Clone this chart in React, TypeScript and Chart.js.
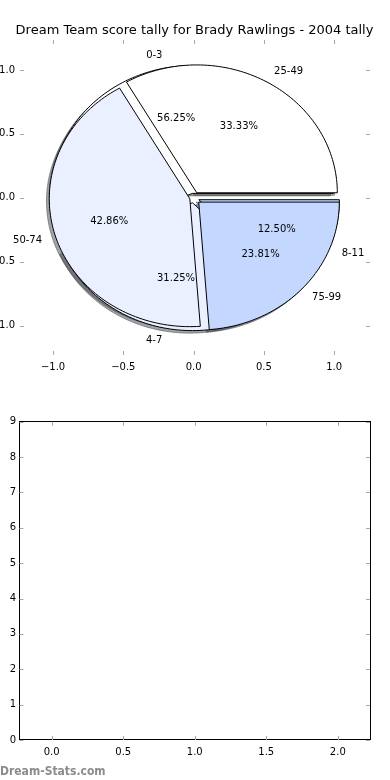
import React, { useEffect, useRef } from 'react';
import { Chart, registerables } from 'chart.js';

Chart.register(...registerables);

const TITLE = 'Dream Team score tally for Brady Rawlings - 2004 tally';
const WATERMARK = 'Dream-Stats.com';

const PIE1_LABELS = ['0-3', '4-7', '8-11'];
const PIE1_VALUES = [9, 5, 2];
const PIE1_EXPLODE = [0.035, 0.04, 0.04];

const PIE2_LABELS = ['25-49', '50-74', '75-99'];
const PIE2_VALUES = [7, 9, 5];
const PIE2_EXPLODE = [0.045, 0.028, 0.05];

const WEDGE_COLORS = ['#ffffff', '#eaf0ff', '#c4d8ff'];

const TOP_X_TICKS = [-1, -0.5, 0, 0.5, 1];
const TOP_Y_TICKS = [-1, -0.5, 0, 0.5, 1];
const BOTTOM_X_TICKS = [0, 0.5, 1, 1.5, 2];
const BOTTOM_Y_TICKS = [0, 1, 2, 3, 4, 5, 6, 7, 8, 9];

const FONT = 'DejaVu Sans';
const fmt1 = (v: number) => v.toFixed(1).replace('-', '\u2212');
const fmt0 = (v: number) => String(Math.round(v)).replace('-', '\u2212');

function hexToRgb(h: string) {
  const n = parseInt(h.slice(1), 16);
  return [(n >> 16) & 255, (n >> 8) & 255, n & 255];
}

const tickMarksPlugin = {
  id: 'mplTicks',
  afterDraw(chart: any) {
    const o = chart.options.plugins.mplTicks;
    if (!o) return;
    const { ctx, chartArea: a } = chart;
    const xs = chart.scales.x;
    const ys = chart.scales.y;
    ctx.save();
    if (o.frame) {
      ctx.strokeStyle = '#000';
      ctx.lineWidth = 1;
      ctx.strokeRect(Math.floor(a.left) + 0.5, Math.floor(a.top) + 0.5, Math.round(a.right - a.left), Math.round(a.bottom - a.top));
    }
    ctx.strokeStyle = '#a8a8a8';
    ctx.lineWidth = 1;
    const L = 4;
    ctx.beginPath();
    xs.ticks.forEach((t: any) => {
      const px = Math.round(xs.getPixelForValue(t.value)) + 0.5;
      ctx.moveTo(px, a.top); ctx.lineTo(px, a.top + L);
      ctx.moveTo(px, a.bottom); ctx.lineTo(px, a.bottom - L);
    });
    ys.ticks.forEach((t: any) => {
      const py = Math.round(ys.getPixelForValue(t.value)) + 0.5;
      ctx.moveTo(a.left, py); ctx.lineTo(a.left + L, py);
      ctx.moveTo(a.right, py); ctx.lineTo(a.right - L, py);
    });
    ctx.stroke();
    ctx.restore();
  },
};

const textPlugin = {
  id: 'mplText',
  afterDraw(chart: any) {
    const o = chart.options.plugins.mplText;
    if (!o) return;
    const ctx = chart.ctx;
    ctx.save();
    o.items.forEach((it: any) => {
      ctx.font = it.font;
      ctx.fillStyle = it.color;
      ctx.textAlign = it.align;
      ctx.textBaseline = 'alphabetic';
      ctx.fillText(it.text, it.x, it.y);
    });
    ctx.restore();
  },
};

const piePlugin = {
  id: 'mplPies',
  afterDatasetsDraw(chart: any) {
    const o = chart.options.plugins.mplPies;
    if (!o) return;
    const ctx = chart.ctx;
    const xs = chart.scales.x;
    const ys = chart.scales.y;
    const P = (x: number, y: number) => [xs.getPixelForValue(x), ys.getPixelForValue(y)];
    const all: any[] = [];
    o.pies.forEach((pie: any) => {
      const total = pie.values.reduce((s: number, v: number) => s + v, 0);
      let th = 0;
      pie.values.forEach((v: number, i: number) => {
        const t1 = th;
        const t2 = th + (v / total) * 360;
        th = t2;
        const mid = ((t1 + t2) / 2) * Math.PI / 180;
        const e = pie.explode[i];
        all.push({
          t1, t2, mid,
          cx: e * Math.cos(mid), cy: e * Math.sin(mid),
          color: pie.colors[i % pie.colors.length],
          label: pie.labels[i],
          pct: (v / total) * 100,
        });
      });
    });
    const path = (w: any, dx: number, dy: number) => {
      ctx.beginPath();
      const c = P(w.cx + dx, w.cy + dy);
      ctx.moveTo(c[0], c[1]);
      const n = Math.max(8, Math.ceil((w.t2 - w.t1) / 1.5));
      for (let k = 0; k <= n; k++) {
        const a = (w.t1 + ((w.t2 - w.t1) * k) / n) * Math.PI / 180;
        const p = P(w.cx + dx + Math.cos(a), w.cy + dy + Math.sin(a));
        ctx.lineTo(p[0], p[1]);
      }
      ctx.closePath();
    };
    ctx.save();
    all.forEach((w) => {
      const [r, g, b] = hexToRgb(w.color);
      const c = `rgba(${Math.round(r * 0.3)},${Math.round(g * 0.3)},${Math.round(b * 0.3)},0.5)`;
      path(w, -0.02, -0.02);
      ctx.fillStyle = c;
      ctx.fill();
      ctx.strokeStyle = c;
      ctx.lineWidth = 1;
      ctx.stroke();
    });
    all.forEach((w) => {
      path(w, 0, 0);
      ctx.fillStyle = w.color;
      ctx.fill();
      ctx.strokeStyle = '#000';
      ctx.lineWidth = 1;
      ctx.stroke();
    });
    ctx.font = `10px "${FONT}"`;
    ctx.fillStyle = '#000';
    ctx.textBaseline = 'middle';
    all.forEach((w) => {
      const lx = w.cx + 1.1 * Math.cos(w.mid);
      const ly = w.cy + 1.1 * Math.sin(w.mid);
      const lp = P(lx, ly);
      ctx.textAlign = lx > 0 ? 'left' : 'right';
      ctx.fillText(w.label, lp[0], lp[1]);
      const px = w.cx + 0.6 * Math.cos(w.mid);
      const py = w.cy + 0.6 * Math.sin(w.mid);
      const pp = P(px, py);
      ctx.textAlign = 'center';
      ctx.fillText(w.pct.toFixed(2) + '%', pp[0], pp[1]);
    });
    ctx.restore();
  },
};

function axis(min: number, max: number, ticks: number[], fmt: (v: number) => string, fitKey: 'width' | 'height', fitSize: number, pad: number) {
  return {
    type: 'linear',
    min,
    max,
    grid: { display: false, drawTicks: false, tickLength: 0 },
    border: { display: false },
    afterBuildTicks: (s: any) => {
      s.ticks = ticks.map((v) => ({ value: v }));
    },
    afterFit: (s: any) => {
      s[fitKey] = fitSize;
    },
    ticks: {
      autoSkip: false,
      maxRotation: 0,
      padding: pad,
      color: '#000',
      font: { family: FONT, size: 10 },
      callback: (v: any) => fmt(Number(v)),
    },
  };
}

export default function App() {
  const topRef = useRef<HTMLCanvasElement>(null);
  const botRef = useRef<HTMLCanvasElement>(null);

  useEffect(() => {
    const top = new Chart(topRef.current as HTMLCanvasElement, {
      type: 'scatter',
      data: { datasets: [{ data: [] }] },
      plugins: [piePlugin, tickMarksPlugin, textPlugin],
      options: {
        animation: false,
        responsive: false,
        events: [],
        layout: { padding: { left: 0, right: 20, top: 40, bottom: 0 } },
        scales: {
          x: { ...axis(-1.235, 1.255, TOP_X_TICKS, fmt1, 'height', 35, 6), position: 'bottom' },
          y: { ...axis(-1.23, 1.234, TOP_Y_TICKS, fmt1, 'width', 20, 5), position: 'left' },
        } as any,
        plugins: {
          legend: { display: false },
          tooltip: { enabled: false },
          mplPies: {
            pies: [
              { labels: PIE1_LABELS, values: PIE1_VALUES, explode: PIE1_EXPLODE, colors: WEDGE_COLORS },
              { labels: PIE2_LABELS, values: PIE2_VALUES, explode: PIE2_EXPLODE, colors: WEDGE_COLORS },
            ],
          },
          mplTicks: { frame: false },
          mplText: {
            items: [{ text: TITLE, x: 194.5, y: 34, align: 'center', color: '#000', font: `13px "${FONT}"` }],
          },
        } as any,
      },
    });
    const bot = new Chart(botRef.current as HTMLCanvasElement, {
      type: 'scatter',
      data: { datasets: [{ data: [] }] },
      plugins: [tickMarksPlugin, textPlugin],
      options: {
        animation: false,
        responsive: false,
        events: [],
        layout: { padding: { left: 0, right: 20, top: 31.7, bottom: 0 } },
        scales: {
          x: { ...axis(-0.225, 2.225, BOTTOM_X_TICKS, fmt1, 'height', 40, 6), position: 'bottom' },
          y: { ...axis(0, 9, BOTTOM_Y_TICKS, fmt0, 'width', 19.5, 3.5), position: 'left' },
        } as any,
        plugins: {
          legend: { display: false },
          tooltip: { enabled: false },
          mplTicks: { frame: true },
          mplText: {
            items: [{ text: WATERMARK, x: 0, y: 385, align: 'left', color: '#8c8c8c', font: `bold 12px "DejaVu Sans Condensed", "${FONT}"` }],
          },
        } as any,
      },
    });
    return () => {
      top.destroy();
      bot.destroy();
    };
  }, []);

  return (
    <div style={{ position: 'absolute', left: 0, top: 0, width: 390, height: 780, background: '#fff' }}>
      <canvas ref={topRef} width={390} height={390} style={{ position: 'absolute', left: 0, top: 0, width: 390, height: 390 }} />
      <canvas ref={botRef} width={390} height={390} style={{ position: 'absolute', left: 0, top: 390, width: 390, height: 390 }} />
    </div>
  );
}
